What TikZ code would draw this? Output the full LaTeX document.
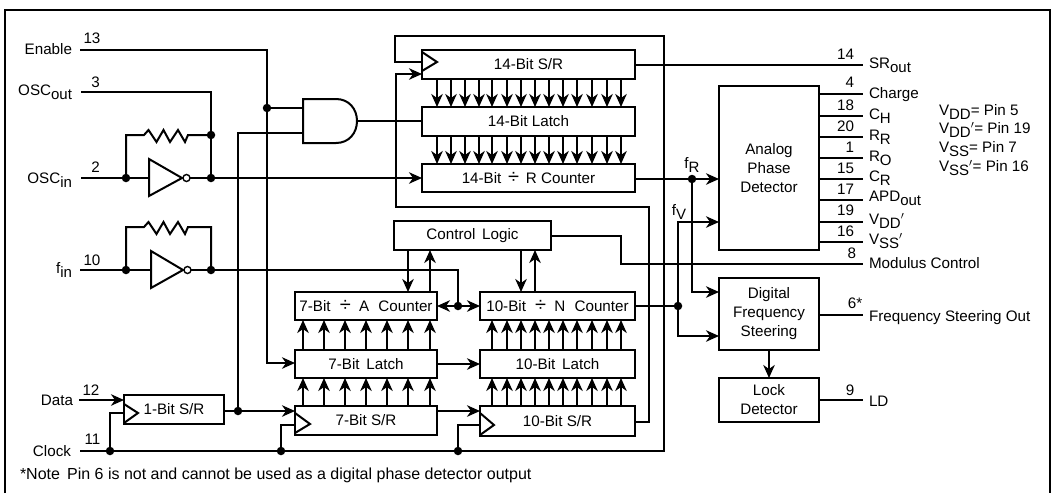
\documentclass[tikz,border=0pt]{standalone}
\usepackage{fontspec}
\setmainfont{Liberation Sans}
\usetikzlibrary{arrows.meta,calc}
\newcommand{\sbs}[1]{\raisebox{-4pt}{\fontsize{15}{15}\selectfont #1}}
\newcommand{\dvd}{{\fontsize{20}{20}\selectfont ÷}}
\newcommand{\lab}[5]{\node[txt,anchor=#4] (#1) at (#2,#3) {#5};}
\tikzset{
  wire/.style={line width=2pt,line join=miter},
  arr/.style={wire,-{Stealth[length=13pt,width=11.5pt,inset=4pt]}},
  block/.style={draw,line width=2pt,inner sep=0pt,outer sep=0pt,align=center,font=\fontsize{15.2}{19}\selectfont},
  txt/.style={inner sep=0pt,outer sep=0pt,text height=10.5pt,text depth=0pt,font=\fontsize{15.2}{18}\selectfont},
  dotn/.style={circle,fill=black,inner sep=0pt,outer sep=0pt,minimum size=8.5pt},
  bubble/.style={circle,draw,line width=1.4pt,fill=white,inner sep=0pt,outer sep=0pt,minimum size=7pt}
}
\begin{document}
\begin{tikzpicture}[x=1pt,y=-1pt]
\useasboundingbox (0,0) rectangle (1052,493);
% frame
\coordinate (fa) at (5,493); \coordinate (fb) at (5,9.5); \coordinate (fc) at (1049.5,9.5); \coordinate (fd) at (1049.5,493);
\draw[line width=2pt] (fa) -- (fb) -- (fc) -- (fd);
% blocks
\node[block,minimum width=213pt,minimum height=29pt] (sr14) at (528.5,64.5) {14-Bit S/R};
\node[block,minimum width=213pt,minimum height=29pt] (la14) at (528.5,121.5) {14-Bit Latch};
\node[block,minimum width=213pt,minimum height=28pt] (rc14) at (528.5,178) {14-Bit \,\dvd\, R Counter};
\node[block,minimum width=157pt,minimum height=29pt] (ctl) at (472.5,235.5) {Control\, Logic};
\node[block,minimum width=142pt,minimum height=28pt] (ac7) at (366,306) {7-Bit\hspace{5pt} \dvd\hspace{4pt} A\hspace{5pt} Counter};
\node[block,minimum width=142pt,minimum height=28pt] (la7) at (366,364) {7-Bit\, Latch};
\node[block,minimum width=142pt,minimum height=29pt] (sr7) at (366,420.5) {7-Bit S/R};
\node[block,minimum width=155pt,minimum height=28pt] (nc10) at (557.5,306) {10-Bit\hspace{5pt} \dvd\hspace{4pt} N\hspace{5pt} Counter};
\node[block,minimum width=155pt,minimum height=28pt] (la10) at (557.5,364) {10-Bit\, Latch};
\node[block,minimum width=155pt,minimum height=30pt] (sr10) at (557.5,421) {10-Bit S/R};
\node[block,minimum width=100pt,minimum height=29pt] (sr1) at (174,409.5) {1-Bit S/R};
\node[block,minimum width=100pt,minimum height=164pt] (apd) at (769,168) {Analog\\Phase\\Detector};
\node[block,minimum width=100pt,minimum height=72pt] (dfs) at (769,314) {Digital\\Frequency\\Steering};
\node[block,minimum width=100pt,minimum height=44pt] (lock) at (769,400) {Lock\\Detector};
% clock triangles
\draw[wire] (sr14.west |- 0,52) -- (437,62) -- (sr14.west |- 0,71);
\draw[wire] (sr1.west |- 0,404) -- (138,413) -- (sr1.west |- 0,423);
\draw[wire] (sr7.west |- 0,413) -- (310,424) -- (sr7.west |- 0,433);
\draw[wire] (sr10.west |- 0,413) -- (494,425) -- (sr10.west |- 0,435);
% AND gate
\coordinate (g1) at (303,99); \coordinate (g2) at (303,143); \coordinate (g3) at (336,99); \coordinate (g4) at (336,143);
\coordinate (gout) at (357,121); \coordinate (gin1) at (303,108); \coordinate (gin2) at (303,133);
\draw[wire] (g3) -- (g1) -- (g2) -- (g4) .. controls (349,143) and (357,133) .. (gout) .. controls (357,109) and (349,99) .. (g3);
% inverters
\coordinate (ia1) at (149,159); \coordinate (ia2) at (149,196); \coordinate (ia3) at (182,178); \coordinate (iain) at (149,178);
\draw[wire] (ia1) -- (ia2) -- (ia3) -- cycle;
\node[bubble] (ba) at (186.5,178) {};
\coordinate (ib1) at (151,251); \coordinate (ib2) at (151,288); \coordinate (ib3) at (183,270); \coordinate (ibin) at (151,270);
\draw[wire] (ib1) -- (ib2) -- (ib3) -- cycle;
\node[bubble] (bb) at (187.5,270) {};
% dots
\node[dotn] (denable) at (267,108) {};
\node[dotn] (dres1) at (211,135) {};
\node[dotn] (dosc1) at (126,178) {};
\node[dotn] (dosc2) at (211,178) {};
\node[dotn] (dfin1) at (126,270) {};
\node[dotn] (dfin2) at (211,270) {};
\node[dotn] (dsr1) at (238,411) {};
\node[dotn] (dclk1) at (110,451) {};
\node[dotn] (dclk2) at (281,451) {};
\node[dotn] (dclk3) at (458,451) {};
\node[dotn] (dfin3) at (458,306) {};
\node[dotn] (dfr) at (692,179) {};
\node[dotn] (dfv) at (678,306) {};
% pin ends
\coordinate (pen) at (80,50); \coordinate (pout) at (81,92); \coordinate (pin) at (81,178);
\coordinate (pfin) at (80,270); \coordinate (pda) at (79,400); \coordinate (pclk) at (80,451);
% Enable
\draw[arr] (pen) -| (267,100) -- (denable.center) -- (267,363) -- (la7.west |- 0,363);
\draw[wire] (denable.center) -- (gin1);
% OSC
\draw[wire] (pout) -| (dres1.center) -- (dosc2.center);
\draw[wire] (dosc1.center) -- (126,135) -- (144,135) -- (148.5,130) -- (156.5,142) -- (163.5,130) -- (170,142) -- (178,130) -- (185,142) -- (188,135) -- (dres1.center);
\draw[wire] (pin) -- (iain);
\draw[wire] (ba.east) -- (dosc2.center);
\draw[arr] (dosc2.center) -- (rc14.west |- dosc2);
% fin
\draw[wire] (dfin1.center) -- (126,227) -- (144,227) -- (148.5,222) -- (156.5,234) -- (163.5,222) -- (170,234) -- (178,222) -- (185,234) -- (188,227) -- (211,227) -- (dfin2.center);
\draw[wire] (pfin) -- (ibin);
\draw[wire] (bb.east) -- (dfin2.center) -- (458,270) -- (dfin3.center);
\draw[arr] (dfin3.center) -- (ac7.east |- dfin3);
\draw[arr] (dfin3.center) -- (nc10.west |- dfin3);
% Data, clock
\draw[arr] (pda) -- (sr1.west |- pda);
\draw[wire] (pclk) -- (dclk1.center) -- (dclk2.center) -- (dclk3.center) -- (664,451) -- (664,36) -- (395,36) -- (395,62) -- (sr14.west |- 0,62);
\draw[wire] (dclk1.center) -- (110,413) -- (sr1.west |- 0,413);
\draw[wire] (dclk2.center) -- (281,425) -- (sr7.west |- 0,425);
\draw[wire] (dclk3.center) -- (458,425) -- (sr10.west |- 0,425);
\draw[arr] (sr1.east |- 0,411) -- (dsr1.center) -- (sr7.west |- 0,411);
\draw[wire] (dsr1.center) -- (238,133) -- (gin2);
\draw[arr] (sr7.east |- 0,411) -- (sr10.west |- 0,411);
\draw[arr] (la7.east) -- (la10.west);
\draw[wire] (gout) -- (la14.west |- gout);
\draw[arr] (sr10.east |- 0,422) -- (649,422) -- (649,207) -- (396,207) -- (396,74) -- (sr14.west |- 0,74);
% control logic
\coordinate (pmod) at (863,264);
\draw[wire] (ctl.east) -- (621,235.5) -- (621,264) -- (pmod);
\draw[arr] (ctl.south -| 408,0) -- (ac7.north -| 408,0);
\draw[arr] (ac7.north -| 430,0) -- (ctl.south -| 430,0);
\draw[arr] (ctl.south -| 521,0) -- (nc10.north -| 521,0);
\draw[arr] (nc10.north -| 535,0) -- (ctl.south -| 535,0);
% bus arrows
\foreach \x in {437,451,465,479,492,507,521,535,549,563,577,592,607,621}{
  \draw[arr] (sr14.south -| \x,0) -- (la14.north -| \x,0);
  \draw[arr] (la14.south -| \x,0) -- (rc14.north -| \x,0);
}
\foreach \x in {303,324,345,366,387,408,430}{
  \draw[arr] (sr7.north -| \x,0) -- (la7.south -| \x,0);
  \draw[arr] (la7.north -| \x,0) -- (ac7.south -| \x,0);
}
\foreach \x in {492,507,521,535,549,563,577,592,607,621}{
  \draw[arr] (sr10.north -| \x,0) -- (la10.south -| \x,0);
  \draw[arr] (la10.north -| \x,0) -- (nc10.south -| \x,0);
}
% right side
\coordinate (psr) at (863,65);
\draw[wire] (sr14.east |- psr) -- (psr);
\draw[arr] (rc14.east |- dfr) -- (dfr.center) -- (apd.west |- dfr);
\draw[arr] (dfr.center) -- (692,292) -- (dfs.west |- 0,292);
\draw[wire] (nc10.east |- dfv) -- (dfv.center);
\draw[arr] (dfv.center) -- (678,222) -- (apd.west |- 0,222);
\draw[arr] (dfv.center) -- (678,336) -- (dfs.west |- 0,336);
\draw[arr] (dfs.south) -- (lock.north);
\coordinate (pfs) at (863,315); \coordinate (pld) at (863,400);
\draw[wire] (dfs.east |- pfs) -- (pfs);
\draw[wire] (lock.east |- pld) -- (pld);
\foreach \y/\n in {94/a,116/b,137/c,158/d,179/e,200/f,222/g,242/h}{
  \coordinate (o\n) at (863,\y);
  \draw[wire] (apd.east |- o\n) -- (o\n);
}
% left labels
\lab{lenable}{72}{49}{east}{Enable}
\lab{losco}{72}{90}{east}{OSC\sbs{out}}
\lab{losci}{72}{178}{east}{OSC\sbs{in}}
\lab{lfin}{72}{268}{east}{f\sbs{in}}
\lab{ldata}{73}{400}{east}{Data}
\lab{lclock}{71}{451}{east}{Clock}
\lab{n13}{92}{38}{center}{13}
\lab{n3}{95.5}{82}{center}{3}
\lab{n2}{95.5}{167}{center}{2}
\lab{n10}{92}{260}{center}{10}
\lab{n12}{91}{390}{center}{12}
\lab{n11}{92.5}{439}{center}{11}
\node[txt,anchor=west,font=\fontsize{16}{18}\selectfont] (lnote) at (20,474) {*Note\, Pin 6 is not and cannot be used as a digital phase detector output};
\lab{lfr}{692}{163}{center}{f\sbs{R}}
\lab{lfv}{679}{210}{center}{f\sbs{V}}
% right labels
\lab{r14}{854}{54}{east}{14}
\lab{r4}{854}{82}{east}{4}
\lab{r18}{854}{105}{east}{18}
\lab{r20}{854}{126}{east}{20}
\lab{r1}{854}{147}{east}{1}
\lab{r15}{854}{168}{east}{15}
\lab{r17}{854}{189}{east}{17}
\lab{r19}{854}{210}{east}{19}
\lab{r16}{854}{231}{east}{16}
\lab{r8}{856}{253}{east}{8}
\lab{r6}{855}{303}{center}{6*}
\lab{r9}{850}{390}{center}{9}
\lab{tsr}{869}{63}{west}{SR\sbs{out}}
\lab{tch}{869}{93}{west}{Charge}
\lab{tc}{869}{114}{west}{C\sbs{H}}
\lab{trr}{869}{135}{west}{R\sbs{R}}
\lab{tro}{869}{156}{west}{R\sbs{O}}
\lab{tcr}{869}{176}{west}{C\sbs{R}}
\lab{tapd}{869}{196}{west}{APD\sbs{out}}
\lab{tvd}{869}{219}{west}{V\sbs{DD}$'$}
\lab{tvs}{869}{239}{west}{V\sbs{SS}$'$}
\lab{tmod}{869}{263}{west}{Modulus Control}
\lab{tfs}{869}{316}{west}{Frequency Steering Out}
\lab{tld}{869}{401}{west}{LD}
\lab{v1}{939}{110}{west}{V\sbs{DD}= Pin 5}
\lab{v2}{939}{128}{west}{V\sbs{DD}$'$= Pin 19}
\lab{v3}{939}{147}{west}{V\sbs{SS}= Pin 7}
\lab{v4}{939}{166}{west}{V\sbs{SS}$'$= Pin 16}
\end{tikzpicture}
\end{document}
